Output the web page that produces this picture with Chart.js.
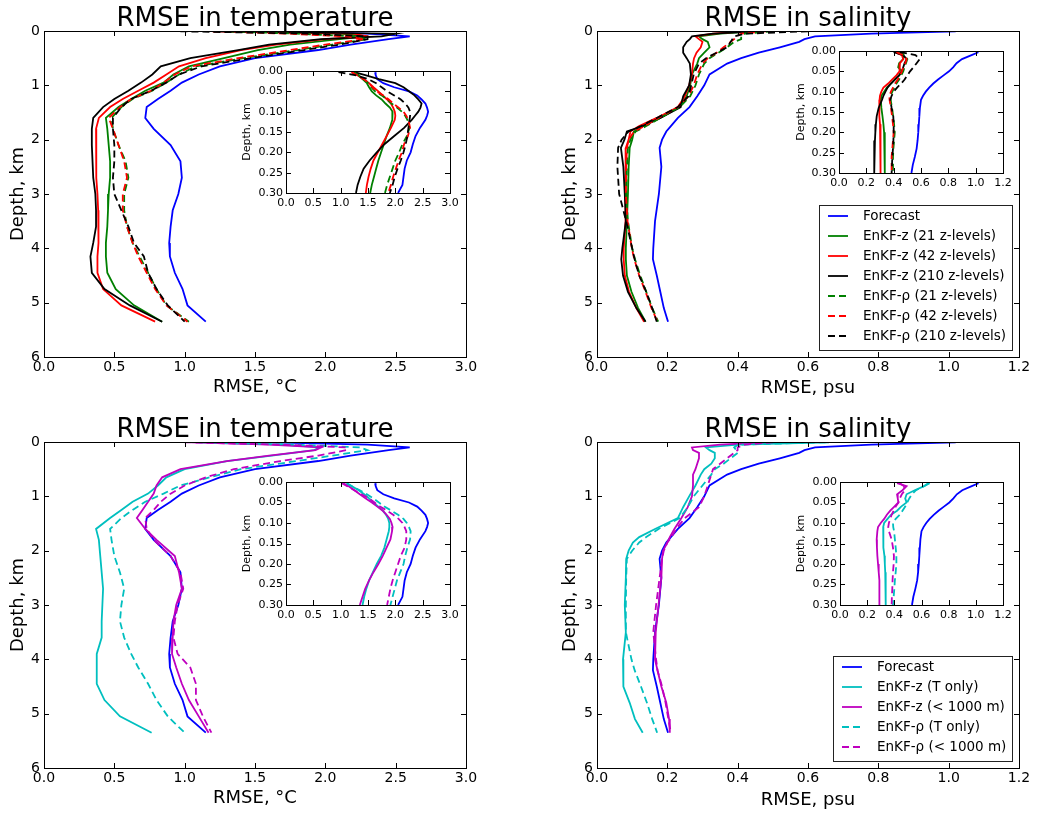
<!DOCTYPE html>
<html>
<head>
<meta charset="utf-8">
<script src="https://cdn.jsdelivr.net/npm/chart.js@4.4.1/dist/chart.umd.min.js"></script>
<style>
  body { margin: 0; background: #fff; }
  #page { position: relative; width: 1038px; height: 814px; overflow: hidden; }
  canvas { position: absolute; }
</style>
</head>
<body>
<div id="page">
  <canvas id="p1"></canvas>
  <canvas id="p2"></canvas>
  <canvas id="p3"></canvas>
  <canvas id="p4"></canvas>
  <canvas id="i1"></canvas>
  <canvas id="i2"></canvas>
  <canvas id="i3"></canvas>
  <canvas id="i4"></canvas>
</div>
<script>
// depth levels (km) where the curves were read
const mainDepthT = [0.005, 0.05, 0.1, 0.15, 0.25, 0.35, 0.5, 0.65, 0.8, 0.95, 1.1, 1.25, 1.4, 1.6, 1.8, 2.1, 2.4, 2.7, 3.0, 3.3, 3.6, 3.9, 4.15, 4.45, 4.75, 5.05, 5.35];
const mainDepthS = [0.005, 0.05, 0.1, 0.15, 0.2, 0.3, 0.4, 0.5, 0.6, 0.8, 1.0, 1.2, 1.4, 1.6, 1.75, 1.85, 2.0, 2.15, 2.5, 3.0, 3.5, 4.0, 4.2, 4.5, 4.8, 5.1, 5.35];
const insetDepth = [0.003, 0.01, 0.02, 0.03, 0.04, 0.05, 0.06, 0.07, 0.08, 0.09, 0.1, 0.11, 0.12, 0.14, 0.16, 0.18, 0.2, 0.22, 0.24, 0.26, 0.28, 0.3];

// temperature RMSE (deg C), full depth
const tForecast = [1.62, 2.3, 2.6, 2.45, 2.18, 1.95, 1.5, 1.25, 1.1, 0.98, 0.9, 0.81, 0.73, 0.72, 0.78, 0.9, 0.97, 0.98, 0.955, 0.915, 0.9, 0.89, 0.895, 0.93, 0.985, 1.02, 1.15];
const tZ21 = [1.3, 2.1, 2.3, 2.1, 1.75, 1.52, 1.28, 1.03, 0.92, 0.85, 0.72, 0.62, 0.53, 0.44, 0.45, 0.46, 0.47, 0.47, 0.46, 0.455, 0.45, 0.44, 0.44, 0.45, 0.51, 0.64, 0.84];
const tZ42 = [1.2, 2.2, 2.3, 2.0, 1.65, 1.4, 1.15, 0.96, 0.87, 0.78, 0.67, 0.56, 0.47, 0.39, 0.37, 0.37, 0.37, 0.375, 0.38, 0.385, 0.39, 0.385, 0.38, 0.38, 0.42, 0.55, 0.79];
const tZ210 = [1.2, 2.5, 2.4, 1.97, 1.6, 1.38, 1.04, 0.83, 0.77, 0.69, 0.6, 0.5, 0.42, 0.35, 0.34, 0.34, 0.345, 0.35, 0.365, 0.37, 0.37, 0.35, 0.33, 0.34, 0.43, 0.61, 0.84];
const tRho21 = [1.3, 1.8, 2.2, 2.3, 2.05, 1.8, 1.42, 1.08, 0.96, 0.87, 0.77, 0.63, 0.55, 0.48, 0.49, 0.53, 0.58, 0.6, 0.57, 0.57, 0.59, 0.63, 0.68, 0.74, 0.8, 0.87, 1.03];
const tRho42 = [1.2, 1.75, 2.15, 2.28, 2.0, 1.75, 1.38, 1.05, 0.93, 0.85, 0.76, 0.62, 0.54, 0.46, 0.49, 0.53, 0.57, 0.59, 0.56, 0.56, 0.59, 0.63, 0.67, 0.73, 0.79, 0.87, 1.02];
const tRho210 = [0.97, 1.9, 2.3, 2.3, 2.1, 1.85, 1.47, 1.12, 0.96, 0.87, 0.76, 0.62, 0.55, 0.49, 0.49, 0.5, 0.5, 0.49, 0.5, 0.55, 0.6, 0.64, 0.71, 0.74, 0.8, 0.88, 1.0];
const tZT = [1.15, 1.7, 1.96, 1.92, 1.62, 1.3, 1.0, 0.87, 0.81, 0.74, 0.63, 0.55, 0.47, 0.37, 0.39, 0.4, 0.41, 0.42, 0.415, 0.41, 0.41, 0.375, 0.375, 0.375, 0.43, 0.54, 0.765];
const tZ1000 = [1.05, 1.6, 1.97, 1.93, 1.6, 1.3, 0.97, 0.84, 0.8, 0.78, 0.74, 0.7, 0.66, 0.72, 0.8, 0.93, 0.96, 0.98, 0.94, 0.92, 0.915, 0.91, 0.94, 0.98, 1.03, 1.1, 1.17];
const tRhoT = [1.1, 1.8, 2.25, 2.3, 2.05, 1.8, 1.4, 1.18, 0.97, 0.85, 0.72, 0.63, 0.55, 0.47, 0.48, 0.5, 0.54, 0.57, 0.55, 0.54, 0.57, 0.62, 0.67, 0.74, 0.8, 0.88, 1.0];
const tRho1000 = [1.0, 1.7, 2.15, 2.15, 1.95, 1.68, 1.35, 1.15, 1.0, 0.9, 0.83, 0.78, 0.72, 0.73, 0.78, 0.9, 0.97, 0.99, 0.95, 0.93, 0.92, 0.95, 1.04, 1.08, 1.08, 1.13, 1.19];

// salinity RMSE (psu), full depth
const sForecast = [1.02, 0.78, 0.62, 0.59, 0.575, 0.52, 0.46, 0.41, 0.37, 0.32, 0.305, 0.285, 0.263, 0.23, 0.21, 0.197, 0.185, 0.178, 0.183, 0.176, 0.165, 0.16, 0.159, 0.17, 0.18, 0.19, 0.202];
const sZ21 = [0.45, 0.35, 0.29, 0.3, 0.315, 0.32, 0.305, 0.29, 0.285, 0.27, 0.265, 0.255, 0.235, 0.18, 0.13, 0.105, 0.1, 0.093, 0.09, 0.088, 0.085, 0.082, 0.082, 0.085, 0.098, 0.117, 0.138];
const sZ42 = [0.42, 0.33, 0.28, 0.29, 0.3, 0.295, 0.283, 0.276, 0.273, 0.27, 0.262, 0.25, 0.23, 0.17, 0.12, 0.095, 0.09, 0.082, 0.082, 0.082, 0.08, 0.076, 0.076, 0.079, 0.091, 0.112, 0.134];
const sZ210 = [0.45, 0.33, 0.27, 0.264, 0.255, 0.245, 0.245, 0.255, 0.264, 0.267, 0.262, 0.245, 0.238, 0.18, 0.13, 0.085, 0.078, 0.068, 0.075, 0.079, 0.082, 0.072, 0.069, 0.074, 0.088, 0.112, 0.138];
const sRho21 = [0.5, 0.42, 0.41, 0.41, 0.39, 0.37, 0.345, 0.32, 0.305, 0.29, 0.28, 0.265, 0.235, 0.18, 0.14, 0.11, 0.095, 0.088, 0.085, 0.083, 0.088, 0.1, 0.108, 0.123, 0.14, 0.157, 0.174];
const sRho42 = [0.48, 0.41, 0.396, 0.39, 0.38, 0.36, 0.34, 0.315, 0.3, 0.285, 0.275, 0.26, 0.23, 0.175, 0.135, 0.105, 0.09, 0.085, 0.083, 0.082, 0.087, 0.099, 0.106, 0.12, 0.138, 0.155, 0.172];
const sRho210 = [0.6, 0.42, 0.39, 0.385, 0.38, 0.37, 0.34, 0.31, 0.29, 0.275, 0.268, 0.26, 0.23, 0.17, 0.125, 0.09, 0.07, 0.06, 0.058, 0.063, 0.083, 0.1, 0.107, 0.12, 0.14, 0.157, 0.17];
const sZT = [0.66, 0.4, 0.31, 0.32, 0.335, 0.335, 0.325, 0.305, 0.295, 0.28, 0.262, 0.245, 0.23, 0.165, 0.12, 0.102, 0.09, 0.083, 0.082, 0.079, 0.082, 0.074, 0.074, 0.076, 0.093, 0.108, 0.13];
const sZ1000 = [0.48, 0.35, 0.27, 0.273, 0.29, 0.29, 0.285, 0.28, 0.273, 0.273, 0.27, 0.258, 0.24, 0.22, 0.207, 0.2, 0.188, 0.185, 0.183, 0.175, 0.167, 0.165, 0.172, 0.183, 0.197, 0.205, 0.207];
const sRhoT = [0.65, 0.4, 0.39, 0.396, 0.4, 0.38, 0.36, 0.335, 0.325, 0.3, 0.275, 0.258, 0.235, 0.175, 0.14, 0.12, 0.1, 0.085, 0.083, 0.082, 0.082, 0.098, 0.107, 0.125, 0.142, 0.157, 0.171];
const sRho1000 = [0.5, 0.42, 0.4, 0.4, 0.39, 0.37, 0.35, 0.33, 0.325, 0.315, 0.305, 0.29, 0.25, 0.225, 0.212, 0.2, 0.19, 0.185, 0.178, 0.168, 0.16, 0.168, 0.172, 0.185, 0.195, 0.203, 0.21];

// upper 300 m (insets)
const tiForecast = [1.63, 1.64, 1.67, 1.78, 1.98, 2.25, 2.4, 2.48, 2.55, 2.58, 2.6, 2.58, 2.55, 2.45, 2.37, 2.32, 2.28, 2.21, 2.17, 2.15, 2.13, 2.05];
const tiZ21 = [1.25, 1.32, 1.4, 1.48, 1.52, 1.57, 1.65, 1.75, 1.82, 1.9, 1.95, 1.95, 1.94, 1.9, 1.84, 1.79, 1.74, 1.69, 1.65, 1.61, 1.57, 1.54];
const tiZ42 = [1.2, 1.3, 1.42, 1.52, 1.6, 1.69, 1.77, 1.85, 1.92, 1.96, 1.99, 2.0, 1.99, 1.92, 1.84, 1.76, 1.68, 1.6, 1.55, 1.51, 1.48, 1.46];
const tiZ210 = [1.25, 1.45, 1.7, 2.0, 2.15, 2.25, 2.35, 2.42, 2.48, 2.46, 2.42, 2.36, 2.3, 2.16, 1.98, 1.8, 1.66, 1.53, 1.42, 1.36, 1.31, 1.28];
const tiRho21 = [1.25, 1.32, 1.42, 1.5, 1.56, 1.63, 1.75, 1.85, 1.93, 2.03, 2.12, 2.18, 2.22, 2.26, 2.21, 2.13, 2.07, 2.0, 1.95, 1.9, 1.85, 1.81];
const tiRho42 = [1.2, 1.3, 1.42, 1.52, 1.58, 1.65, 1.78, 1.88, 1.96, 2.06, 2.15, 2.2, 2.24, 2.27, 2.23, 2.16, 2.12, 2.06, 2.01, 1.96, 1.92, 1.87];
const tiRho210 = [0.96, 1.26, 1.5, 1.65, 1.75, 1.85, 1.98, 2.1, 2.18, 2.24, 2.27, 2.27, 2.26, 2.24, 2.22, 2.19, 2.15, 2.1, 2.04, 1.99, 1.95, 1.9];
const tiZT = [1.11, 1.2, 1.33, 1.43, 1.52, 1.6, 1.69, 1.77, 1.83, 1.87, 1.89, 1.89, 1.88, 1.84, 1.8, 1.74, 1.66, 1.59, 1.52, 1.47, 1.43, 1.4];
const tiZ1000 = [1.05, 1.14, 1.25, 1.35, 1.46, 1.57, 1.67, 1.77, 1.84, 1.9, 1.93, 1.95, 1.94, 1.91, 1.84, 1.77, 1.69, 1.6, 1.52, 1.45, 1.4, 1.35];
const tiRhoT = [1.11, 1.2, 1.35, 1.48, 1.6, 1.7, 1.8, 1.93, 2.05, 2.15, 2.21, 2.25, 2.28, 2.27, 2.22, 2.18, 2.15, 2.09, 2.03, 1.99, 1.95, 1.91];
const tiRho1000 = [1.02, 1.12, 1.25, 1.38, 1.52, 1.62, 1.72, 1.85, 1.96, 2.06, 2.13, 2.17, 2.2, 2.2, 2.17, 2.1, 2.05, 2.0, 1.95, 1.91, 1.88, 1.85];

const siForecast = [1.02, 0.97, 0.9, 0.86, 0.835, 0.805, 0.765, 0.725, 0.69, 0.66, 0.635, 0.615, 0.6, 0.592, 0.588, 0.584, 0.58, 0.575, 0.568, 0.555, 0.54, 0.53];
const siZ21 = [0.46, 0.47, 0.47, 0.44, 0.433, 0.46, 0.44, 0.41, 0.38, 0.35, 0.33, 0.31, 0.306, 0.31, 0.318, 0.325, 0.33, 0.335, 0.335, 0.335, 0.335, 0.335];
const siZ42 = [0.41, 0.46, 0.47, 0.446, 0.446, 0.44, 0.42, 0.39, 0.36, 0.325, 0.31, 0.3, 0.297, 0.294, 0.296, 0.3, 0.304, 0.304, 0.304, 0.304, 0.304, 0.304];
const siZ210 = [0.4, 0.47, 0.495, 0.48, 0.47, 0.46, 0.44, 0.41, 0.38, 0.355, 0.34, 0.325, 0.315, 0.29, 0.276, 0.27, 0.266, 0.263, 0.26, 0.257, 0.257, 0.257];
const siRho21 = [0.43, 0.48, 0.5, 0.49, 0.48, 0.47, 0.455, 0.44, 0.42, 0.405, 0.39, 0.378, 0.378, 0.388, 0.396, 0.403, 0.408, 0.403, 0.398, 0.395, 0.395, 0.395];
const siRho42 = [0.42, 0.47, 0.495, 0.485, 0.47, 0.46, 0.447, 0.43, 0.41, 0.395, 0.38, 0.368, 0.37, 0.38, 0.388, 0.395, 0.4, 0.395, 0.39, 0.385, 0.385, 0.385];
const siRho210 = [0.446, 0.56, 0.59, 0.568, 0.545, 0.52, 0.5, 0.48, 0.455, 0.425, 0.4, 0.385, 0.375, 0.385, 0.397, 0.4, 0.4, 0.398, 0.395, 0.39, 0.388, 0.385];
const siZT = [0.66, 0.62, 0.55, 0.49, 0.48, 0.49, 0.45, 0.42, 0.375, 0.35, 0.325, 0.318, 0.318, 0.318, 0.322, 0.327, 0.33, 0.333, 0.335, 0.336, 0.337, 0.338];
const siZ1000 = [0.42, 0.49, 0.46, 0.42, 0.425, 0.43, 0.4, 0.37, 0.345, 0.325, 0.3, 0.28, 0.275, 0.27, 0.272, 0.275, 0.28, 0.285, 0.29, 0.29, 0.29, 0.29];
const siRhoT = [0.65, 0.62, 0.56, 0.53, 0.51, 0.495, 0.48, 0.46, 0.44, 0.41, 0.39, 0.392, 0.398, 0.404, 0.41, 0.415, 0.415, 0.41, 0.404, 0.4, 0.395, 0.39];
const siRho1000 = [0.44, 0.47, 0.478, 0.455, 0.44, 0.43, 0.41, 0.395, 0.38, 0.37, 0.36, 0.355, 0.36, 0.38, 0.39, 0.397, 0.395, 0.39, 0.387, 0.385, 0.382, 0.38];

const levelLabels = ['Forecast', 'EnKF-z (21 z-levels)', 'EnKF-z (42 z-levels)', 'EnKF-z (210 z-levels)',
  'EnKF-ρ (21 z-levels)', 'EnKF-ρ (42 z-levels)', 'EnKF-ρ (210 z-levels)'];
const subsetLabels = ['Forecast', 'EnKF-z (T only)', 'EnKF-z (< 1000 m)', 'EnKF-ρ (T only)', 'EnKF-ρ (< 1000 m)'];

const BLUE = '#0000ff', GREEN = '#008000', RED = '#ff0000', BLACK = '#000000', CYAN = '#00bfbf', MAGENTA = '#bf00bf';

Chart.defaults.font.family = "'DejaVu Sans', sans-serif";
Chart.defaults.color = '#000';

function line(label, depths, values, color, dashed) {
  return {
    label: label,
    data: values.map((v, i) => ({ x: v, y: depths[i] })),
    borderColor: color,
    backgroundColor: color,
    borderWidth: 1.8,
    borderDash: dashed ? [7, 4] : [],
    showLine: true,
    pointRadius: 0,
    fill: false
  };
}

function levelSets(depths, f, z21, z42, z210, r21, r42, r210) {
  return [
    line(levelLabels[0], depths, f, BLUE),
    line(levelLabels[1], depths, z21, GREEN),
    line(levelLabels[2], depths, z42, RED),
    line(levelLabels[3], depths, z210, BLACK),
    line(levelLabels[4], depths, r21, GREEN, true),
    line(levelLabels[5], depths, r42, RED, true),
    line(levelLabels[6], depths, r210, BLACK, true)
  ];
}

function subsetSets(depths, f, zT, z1000, rT, r1000) {
  return [
    line(subsetLabels[0], depths, f, BLUE),
    line(subsetLabels[1], depths, zT, CYAN),
    line(subsetLabels[2], depths, z1000, MAGENTA),
    line(subsetLabels[3], depths, rT, CYAN, true),
    line(subsetLabels[4], depths, r1000, MAGENTA, true)
  ];
}

// matplotlib look: white axes box, inward ticks on all four sides
const frame = {
  id: 'frame',
  beforeDraw(chart) {
    const a = chart.chartArea, ctx = chart.ctx;
    ctx.save();
    ctx.fillStyle = '#fff';
    ctx.fillRect(a.left, a.top, a.right - a.left, a.bottom - a.top);
    ctx.restore();
  },
  afterDatasetsDraw(chart) {
    const a = chart.chartArea, ctx = chart.ctx, L = 5;
    const sx = chart.scales.x, sy = chart.scales.y;
    ctx.save();
    ctx.strokeStyle = '#000';
    ctx.lineWidth = 1;
    ctx.beginPath();
    sx.ticks.forEach(t => {
      const p = Math.round(sx.getPixelForValue(t.value)) + 0.5;
      ctx.moveTo(p, a.bottom); ctx.lineTo(p, a.bottom - L);
      ctx.moveTo(p, a.top); ctx.lineTo(p, a.top + L);
    });
    sy.ticks.forEach(t => {
      const p = Math.round(sy.getPixelForValue(t.value)) + 0.5;
      ctx.moveTo(a.left, p); ctx.lineTo(a.left + L, p);
      ctx.moveTo(a.right, p); ctx.lineTo(a.right - L, p);
    });
    ctx.stroke();
    ctx.strokeRect(Math.round(a.left) + 0.5, Math.round(a.top) + 0.5,
      Math.round(a.right - a.left), Math.round(a.bottom - a.top));
    ctx.restore();
  }
};

function panelTitle(text) {
  return {
    id: 'panelTitle',
    afterDraw(chart) {
      const a = chart.chartArea, ctx = chart.ctx;
      ctx.save();
      ctx.font = "26px 'DejaVu Sans'";
      ctx.fillStyle = '#000';
      ctx.textAlign = 'center';
      ctx.textBaseline = 'alphabetic';
      ctx.fillText(text, (a.left + a.right) / 2, a.top - 5);
      ctx.restore();
    }
  };
}

function boxLegend() {
  return {
    id: 'boxLegend',
    afterDraw(chart) {
      const a = chart.chartArea, ctx = chart.ctx, sets = chart.data.datasets;
      ctx.save();
      ctx.font = "13.5px 'DejaVu Sans'";
      const tw = Math.max(...sets.map(d => ctx.measureText(d.label).width));
      const w = 50 + tw, h = 25 + 20 * (sets.length - 1);
      const x0 = Math.round(a.right - 7 - w), y0 = Math.round(a.bottom - 7 - h);
      ctx.fillStyle = '#fff';
      ctx.fillRect(x0, y0, w, h);
      ctx.strokeStyle = '#222';
      ctx.lineWidth = 1;
      ctx.strokeRect(x0 + 0.5, y0 + 0.5, Math.round(w), h);
      sets.forEach((d, i) => {
        const cy = y0 + 11 + 20 * i;
        ctx.strokeStyle = d.borderColor;
        ctx.lineWidth = d.borderWidth;
        ctx.setLineDash(d.borderDash);
        ctx.beginPath();
        ctx.moveTo(x0 + 9, cy);
        ctx.lineTo(x0 + 29, cy);
        ctx.stroke();
        ctx.setLineDash([]);
        ctx.fillStyle = '#000';
        ctx.textAlign = 'left';
        ctx.textBaseline = 'middle';
        ctx.fillText(d.label, x0 + 44, cy);
      });
      ctx.restore();
    }
  };
}

function makePanel(id, box, area, o) {
  const cv = document.getElementById(id);
  cv.width = box.w; cv.height = box.h;
  cv.style.left = box.x + 'px'; cv.style.top = box.y + 'px';
  const yW = area.l - box.x, xH = box.y + box.h - area.b;
  const n = o.datasets.length;
  o.datasets.forEach((d, i) => { d.order = n - i; });
  const plugins = [frame];
  if (o.title) plugins.push(panelTitle(o.title));
  if (o.legend) plugins.push(boxLegend());
  return new Chart(cv, {
    type: 'scatter',
    data: { datasets: o.datasets },
    options: {
      responsive: false,
      animation: false,
      devicePixelRatio: 1,
      layout: { padding: { top: area.t - box.y, right: box.x + box.w - area.r, left: 0, bottom: 0 } },
      plugins: { legend: { display: false }, tooltip: { enabled: false } },
      scales: {
        x: {
          type: 'linear', position: 'bottom', min: 0, max: o.xMax,
          grid: { display: false, drawTicks: false }, border: { display: false },
          ticks: { stepSize: o.xStep, padding: o.xTickPad, autoSkip: false, maxRotation: 0,
            font: { size: o.tickSize }, callback: v => v.toFixed(o.xDigits) },
          title: { display: !!o.xTitle, text: o.xTitle, font: { size: 18 },
            padding: { top: 0, bottom: o.xTitlePad } },
          afterFit: s => { s.height = xH; s.paddingLeft = 0; s.paddingRight = 0; }
        },
        y: {
          type: 'linear', position: 'left', min: 0, max: o.yMax, reverse: true,
          grid: { display: false, drawTicks: false }, border: { display: false },
          ticks: { stepSize: o.yStep, padding: o.yTickPad, autoSkip: false,
            font: { size: o.tickSize }, callback: v => v.toFixed(o.yDigits) },
          title: { display: true, text: 'Depth, km', font: { size: o.yTitleSize },
            padding: { top: o.yTitlePad, bottom: 0 } },
          afterFit: s => { s.width = yW; s.paddingTop = 0; s.paddingBottom = 0; }
        }
      }
    },
    plugins: plugins
  });
}

const mainT = { xMax: 3, xStep: 0.5, xDigits: 1, yMax: 6, yStep: 1, yDigits: 0, tickSize: 14,
  xTickPad: 2, yTickPad: 4, xTitle: 'RMSE, °C', yTitleSize: 18 };
const mainS = Object.assign({}, mainT, { xMax: 1.2, xStep: 0.2, xTitle: 'RMSE, psu' });
const insT = { xMax: 3, xStep: 0.5, xDigits: 1, yMax: 0.3, yStep: 0.05, yDigits: 2, tickSize: 11,
  xTickPad: 4, yTickPad: 3, xTitle: '', yTitleSize: 11 };
const insS = Object.assign({}, insT, { xMax: 1.2, xStep: 0.2 });

makePanel('p1', { x: 0, y: 0, w: 480, h: 400 }, { l: 44, t: 31, r: 466, b: 357 },
  Object.assign({}, mainT, { title: 'RMSE in temperature', xTitlePad: 2, yTitlePad: 8,
    datasets: levelSets(mainDepthT, tForecast, tZ21, tZ42, tZ210, tRho21, tRho42, tRho210) }));
makePanel('p2', { x: 520, y: 0, w: 518, h: 400 }, { l: 597, t: 31, r: 1019, b: 357 },
  Object.assign({}, mainS, { title: 'RMSE in salinity', xTitlePad: 1, yTitlePad: 40, legend: true,
    datasets: levelSets(mainDepthS, sForecast, sZ21, sZ42, sZ210, sRho21, sRho42, sRho210) }));
makePanel('p3', { x: 0, y: 410, w: 480, h: 404 }, { l: 44, t: 442, r: 466, b: 768 },
  Object.assign({}, mainT, { title: 'RMSE in temperature', xTitlePad: 5, yTitlePad: 8,
    datasets: subsetSets(mainDepthT, tForecast, tZT, tZ1000, tRhoT, tRho1000) }));
makePanel('p4', { x: 520, y: 410, w: 518, h: 404 }, { l: 597, t: 442, r: 1019, b: 768 },
  Object.assign({}, mainS, { title: 'RMSE in salinity', xTitlePad: 3, yTitlePad: 40, legend: true,
    datasets: subsetSets(mainDepthS, sForecast, sZT, sZ1000, sRhoT, sRho1000) }));

makePanel('i1', { x: 228, y: 62, w: 232, h: 158 }, { l: 286, t: 71, r: 450, b: 193 },
  Object.assign({}, insT, { yTitlePad: 13,
    datasets: levelSets(insetDepth, tiForecast, tiZ21, tiZ42, tiZ210, tiRho21, tiRho42, tiRho210) }));
makePanel('i2', { x: 781, y: 42, w: 232, h: 158 }, { l: 839, t: 51, r: 1003, b: 173 },
  Object.assign({}, insS, { yTitlePad: 14,
    datasets: levelSets(insetDepth, siForecast, siZ21, siZ42, siZ210, siRho21, siRho42, siRho210) }));
makePanel('i3', { x: 228, y: 473, w: 232, h: 158 }, { l: 286, t: 482, r: 450, b: 605 },
  Object.assign({}, insT, { yTitlePad: 13,
    datasets: subsetSets(insetDepth, tiForecast, tiZT, tiZ1000, tiRhoT, tiRho1000) }));
makePanel('i4', { x: 782, y: 473, w: 232, h: 158 }, { l: 840, t: 482, r: 1003, b: 605 },
  Object.assign({}, insS, { yTitlePad: 13,
    datasets: subsetSets(insetDepth, siForecast, siZT, siZ1000, siRhoT, siRho1000) }));
</script>
</body>
</html>
